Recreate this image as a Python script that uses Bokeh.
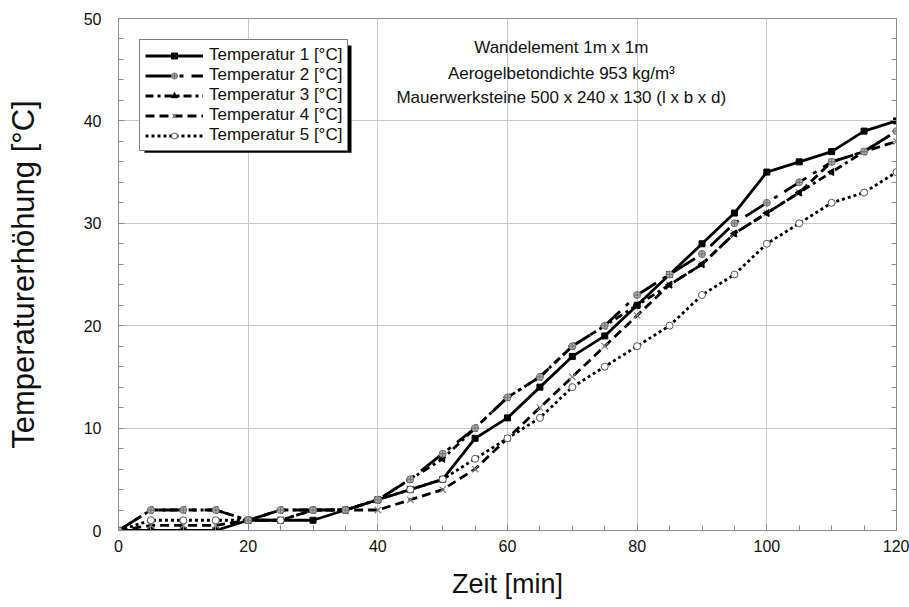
from bokeh.plotting import figure
from bokeh.models import (Legend, LegendItem, LinearAxis, Label, BoxAnnotation,
                          ColumnDataSource, Range1d, SingleIntervalTicker, CustomLabelingPolicy)
from bokeh.embed import file_html
from bokeh.resources import INLINE
import math

# ---- data ----
zeit = [0, 5, 10, 15, 20, 25, 30, 35, 40, 45, 50, 55, 60, 65, 70, 75, 80, 85, 90, 95, 100, 105, 110, 115, 120]
temp1 = [0, 0, 0, 0, 1, 1, 1, 2, 3, 4, 5, 9, 11, 14, 17, 19, 22, 25, 28, 31, 35, 36, 37, 39, 40]
temp2 = [0, 2, 2, 2, 1, 2, 2, 2, 3, 5, 7.5, 10, 13, 15, 18, 20, 23, 25, 27, 30, 32, 34, 36, 37, 39]
temp3 = [0, 2, 2, 2, 1, 2, 2, 2, 3, 5, 7, 10, 13, 15, 18, 20, 22, 24, 26, 29, 31, 33, 35, 37, 39]
temp4 = [0, 0.5, 0.5, 0.5, 1, 1, 2, 2, 2, 3, 4, 6, 9, 12, 15, 18, 21, 24, 26, 29, 31, 33, 36, 37, 38]
temp5 = [0, 1, 1, 1, 1, 1, 2, 2, 3, 4, 5, 7, 9, 11, 14, 16, 18, 20, 23, 25, 28, 30, 32, 33, 35]
labels = ["Temperatur 1 [°C]", "Temperatur 2 [°C]", "Temperatur 3 [°C]",
          "Temperatur 4 [°C]", "Temperatur 5 [°C]"]
notes = ["Wandelement 1m x 1m", "Aerogelbetondichte 953 kg/m³",
         "Mauerwerksteine 500 x 240 x 130 (l x b x d)"]
x_label = "Zeit [min]"
y_label = "Temperaturerhöhung [°C]"

FONT = "Liberation Sans"

p = figure(width=909, height=607, output_backend="svg", toolbar_location=None,
           x_range=Range1d(0, 120), y_range=Range1d(0, 50),
           min_border_left=118, min_border_right=13, min_border_top=18, min_border_bottom=77)
p.outline_line_color = "#8c8c8c"
p.outline_line_width = 1
p.background_fill_color = "white"
p.border_fill_color = "white"

# grid
p.xgrid.ticker = SingleIntervalTicker(interval=20, num_minor_ticks=4)
p.ygrid.ticker = SingleIntervalTicker(interval=10, num_minor_ticks=5)
for g in (p.xgrid, p.ygrid):
    g.grid_line_color = "#c8c8c8"
    g.grid_line_width = 1

def style_axis(ax):
    ax.axis_line_color = "#8c8c8c"
    ax.major_tick_in = 6
    ax.major_tick_out = 0
    ax.minor_tick_in = 5
    ax.minor_tick_out = 0
    ax.major_tick_line_color = "#8c8c8c"
    ax.minor_tick_line_color = "#8c8c8c"
    ax.major_label_text_font = FONT
    ax.major_label_text_font_size = "16px"
    ax.major_label_text_color = "#111111"
    ax.axis_label_text_font = FONT
    ax.axis_label_text_font_style = "normal"
    ax.axis_label_text_color = "#111111"

xa = p.xaxis[0]
xa.ticker = SingleIntervalTicker(interval=20, num_minor_ticks=4)
style_axis(xa)
xa.axis_label = x_label
xa.axis_label_text_font_size = "27px"
xa.major_label_standoff = 9
xa.axis_label_standoff = 14

ya = p.yaxis[0]
ya.ticker = SingleIntervalTicker(interval=10, num_minor_ticks=5)
style_axis(ya)
ya.axis_label = y_label
ya.axis_label_text_font_size = "31px"
ya.major_label_standoff = 17
ya.axis_label_standoff = 40

ra = LinearAxis(ticker=SingleIntervalTicker(interval=10, num_minor_ticks=5))
style_axis(ra)
ra.major_label_standoff = 0
ra.major_label_text_font_size = "0px"
ra.major_label_policy = CustomLabelingPolicy(code="return new indices.constructor(indices.size, 0)")
p.add_layout(ra, "right")

src = ColumnDataSource(dict(t=zeit, a=temp1, b=temp2, c=temp3, d=temp4, e=temp5))

LW = 2.8
l1 = p.line("t", "a", source=src, line_color="black", line_width=LW)
m1 = p.scatter("t", "a", source=src, marker="square", size=6, fill_color="black", line_color="black")

l4 = p.line("t", "d", source=src, line_color="black", line_width=LW, line_dash="9 5")
m4 = p.scatter("t", "d", source=src, marker="x", size=9, line_color="#808080", line_width=1.2)

l5 = p.line("t", "e", source=src, line_color="black", line_width=LW, line_dash="3 3")
m5 = p.scatter("t", "e", source=src, marker="circle", size=7, fill_color="white", line_color="#555555", line_width=1)

l3 = p.line("t", "c", source=src, line_color="black", line_width=LW, line_dash="8 4 3 4")
m3 = p.scatter("t", "c", source=src, marker="triangle", angle=math.pi / 2, size=7,
               fill_color="black", line_color="black")

l2 = p.line("t", "b", source=src, line_color="black", line_width=LW, line_dash="26 8 4 8")
m2 = p.scatter("t", "b", source=src, marker="circle_cross", size=7, fill_color="#b0b0b0",
               line_color="#707070", line_width=1)

# legend shadow (offset 5 px right / down from the legend box)
shadow = BoxAnnotation(left=4.01, right=35.94, top=47.36, bottom=36.9,
                       fill_color="black", fill_alpha=1.0, line_color=None, level="annotation")
p.add_layout(shadow)

items = [LegendItem(label=labels[0], renderers=[l1, m1]),
         LegendItem(label=labels[1], renderers=[l2, m2]),
         LegendItem(label=labels[2], renderers=[l3, m3]),
         LegendItem(label=labels[3], renderers=[l4, m4]),
         LegendItem(label=labels[4], renderers=[l5, m5])]
legend = Legend(items=items, location="top_left", margin=21,
                border_line_color="black", border_line_width=1.5,
                background_fill_color="white", background_fill_alpha=1.0,
                label_text_font=FONT, label_text_font_size="17px", label_text_color="#111111",
                glyph_width=58, glyph_height=15, label_height=15, spacing=0,
                padding=5, label_standoff=6)
p.add_layout(legend)

# notes
note_y = [47.17, 44.63, 42.29]
for txt, yy in zip(notes, note_y):
    p.add_layout(Label(x=68.3, y=yy, text=txt, text_align="center", text_baseline="middle",
                       text_font=FONT, text_font_size="17px", text_color="#111111"))

open("out.html", "w").write(file_html(p, INLINE))
